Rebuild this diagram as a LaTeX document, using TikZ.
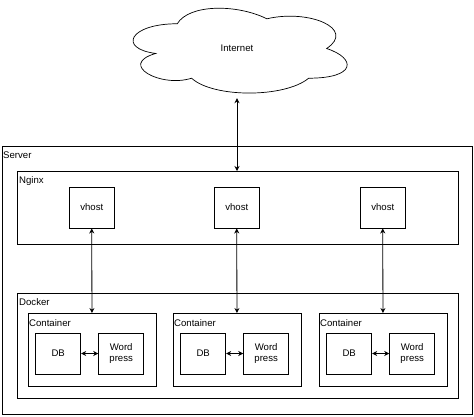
\documentclass[tikz,border=0pt]{standalone}
\usepackage{fontspec}
\setmainfont{Liberation Sans}
\usetikzlibrary{positioning, arrows.meta}
\tikzset{>={Stealth[length=5pt, width=5pt]}}

\begin{document}
\begin{tikzpicture}[x=1pt, y=-1pt, font=\fontsize{9.6}{11.5}\selectfont,
  frame/.style={draw, line width=1.4pt, anchor=north west, inner sep=0pt},
  group/.style={draw, line width=0.9pt, anchor=north west, inner sep=0pt,
    minimum width=128pt, minimum height=73pt},
  unit/.style={draw, line width=0.9pt, minimum width=45pt, minimum height=41pt,
    inner sep=1pt, align=center},
  tag/.style={anchor=west, inner sep=0pt}]
\useasboundingbox (0,0) rectangle (474,416);
% cloud
\begin{scope}[shift={(117.5,-1)}, x=239pt, y=-99pt]
\draw[line width=0.7pt] (0.25,0.25) .. controls (0.05,0.25) and (0,0.5) .. (0.16,0.55)
  .. controls (0,0.66) and (0.18,0.9) .. (0.31,0.8)
  .. controls (0.4,1) and (0.7,1) .. (0.8,0.8)
  .. controls (1,0.8) and (1,0.6) .. (0.875,0.5)
  .. controls (1,0.3) and (0.8,0.1) .. (0.625,0.2)
  .. controls (0.5,0.05) and (0.3,0.05) .. (0.25,0.25) -- cycle;
\end{scope}
\node[minimum width=239pt, minimum height=99pt, inner sep=0pt] (inet) at (237,48.5) {Internet};

\node[frame, minimum width=470pt, minimum height=268pt] (server) at (2,146) {};
\node[tag] at (3,155) {Server};
\node[frame, minimum width=440.5pt, minimum height=73pt] (nginx) at (17,171) {};
\node[tag] at (19,181) {Nginx};
\node[frame, minimum width=440.5pt, minimum height=105pt] (docker) at (17,293) {};
\node[tag] at (19,302) {Docker};

\draw[<->, line width=0.8pt] (inet.south) -- (inet.south |- nginx.north);

\foreach \i/\x in {1/27.5, 2/172.5, 3/318.5} {
  \node[group] (c\i) at (\x,313) {};
  \node[tag] at (\x+1.5,323) {Container};
  \node[unit] (db\i) at (\x+30.7,353.5) {DB};
  \node[unit] (wp\i) at (\x+93.7,353.5) {Word\\press};
  \node[unit] (v\i) at (\x+64.25,207.5) {vhost};
  \draw[<->, line width=0.8pt] (v\i.south) -- (c\i.north);
  \draw[<->, line width=0.8pt] (db\i) -- (wp\i);
}
\end{tikzpicture}
\end{document}
